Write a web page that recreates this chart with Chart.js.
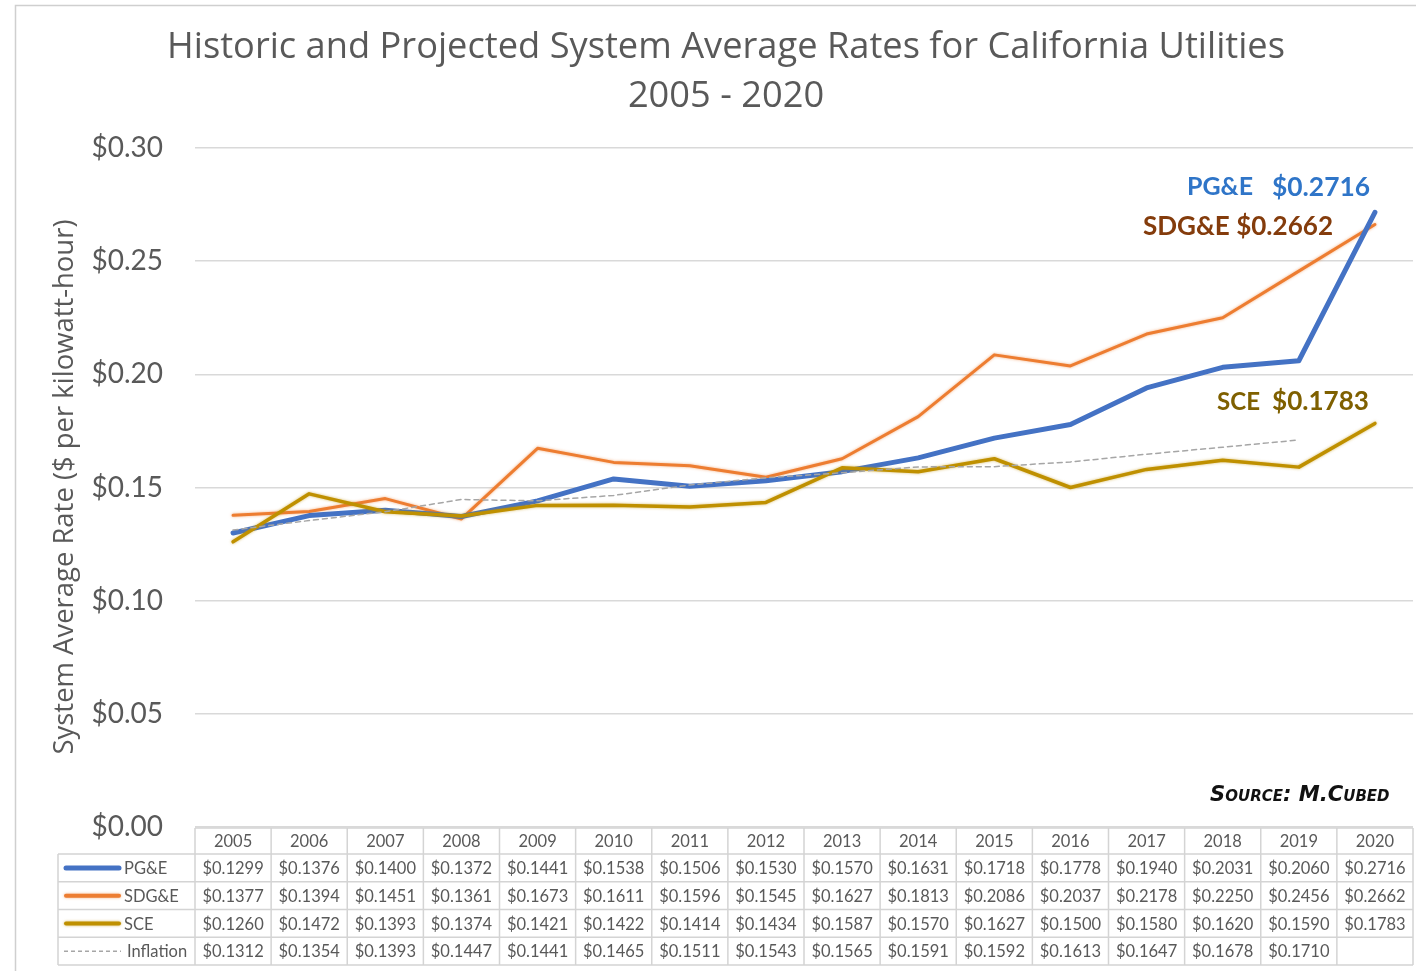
<!DOCTYPE html>
<html>
<head>
<meta charset="utf-8">
<script src="https://cdn.jsdelivr.net/npm/chart.js@4.4.1/dist/chart.umd.min.js"></script>
<style>
html,body{margin:0;padding:0;background:#fff;}
#wrap{width:1416px;height:971px;position:relative;}
</style>
</head>
<body>
<div id="wrap"><canvas id="c" width="1416" height="971"></canvas></div>
<script>
const years = ['2005','2006','2007','2008','2009','2010','2011','2012','2013','2014','2015','2016','2017','2018','2019','2020'];
const pge = [0.1299,0.1376,0.1400,0.1372,0.1441,0.1538,0.1506,0.1530,0.1570,0.1631,0.1718,0.1778,0.1940,0.2031,0.2060,0.2716];
const sdge = [0.1377,0.1394,0.1451,0.1361,0.1673,0.1611,0.1596,0.1545,0.1627,0.1813,0.2086,0.2037,0.2178,0.2250,0.2456,0.2662];
const sce = [0.1260,0.1472,0.1393,0.1374,0.1421,0.1422,0.1414,0.1434,0.1587,0.1570,0.1627,0.1500,0.1580,0.1620,0.1590,0.1783];
const inflation = [0.1312,0.1354,0.1393,0.1447,0.1441,0.1465,0.1511,0.1543,0.1565,0.1591,0.1592,0.1613,0.1647,0.1678,0.1710,null];
const seriesNames = ['PG&E','SDG&E','SCE','Inflation'];
const yMin = 0, yMax = 0.30, yStep = 0.05;

const TXT = '#595959';
const FONT = 'Lato, "Open Sans", sans-serif';

function fitFont(ctx, text, style, family, target, base) {
  ctx.font = style + ' ' + base + 'px ' + family;
  const w = ctx.measureText(text).width;
  const size = base * target / w;
  ctx.font = style + ' ' + size.toFixed(2) + 'px ' + family;
  return size;
}
function fitText(ctx, text, style, family, left, right, cy, color) {
  fitFont(ctx, text, style, family, right - left, 20);
  ctx.fillStyle = color;
  ctx.textAlign = 'left';
  ctx.textBaseline = 'middle';
  ctx.fillText(text, left, cy);
}

const fmt = v => v == null ? '' : '$' + v.toFixed(4);

const overlay = {
  id: 'overlay',
  beforeDatasetDraw(chart, args) {
    const ds = chart.data.datasets[args.index];
    const ctx = chart.ctx;
    ctx.save();
    if (ds.glow) {
      ctx.shadowColor = ds.glow;
      ctx.shadowBlur = 3;
    }
  },
  afterDatasetDraw(chart) { chart.ctx.restore(); },
  afterDraw(chart) {
    const ctx = chart.ctx;
    const x = chart.scales.x;
    ctx.save();
    // outer border
    ctx.strokeStyle = '#cfcfcf';
    ctx.lineWidth = 1.5;
    ctx.beginPath();
    ctx.moveTo(15.5, 971); ctx.lineTo(15.5, 5.5); ctx.lineTo(1416, 5.5);
    ctx.stroke();

    // title
    ctx.fillStyle = TXT;
    const t1 = 'Historic and Projected System Average Rates for California Utilities';
    fitFont(ctx, t1, 'normal', '"Open Sans", sans-serif', 1118, 30);
    ctx.textAlign = 'center'; ctx.textBaseline = 'middle';
    ctx.fillText(t1, 726, 48);
    ctx.fillText('2005 - 2020', 726, 97);

    // y title
    ctx.save();
    ctx.translate(65, 487);
    ctx.rotate(-Math.PI / 2);
    const yt = 'System Average Rate ($ per kilowatt-hour)';
    fitFont(ctx, yt, 'normal', '"Open Sans", sans-serif', 535, 24);
    ctx.fillStyle = TXT;
    ctx.textAlign = 'center'; ctx.textBaseline = 'middle';
    ctx.fillText(yt, 0, 0);
    ctx.restore();

    // annotations
    fitText(ctx, 'PG&E', 'bold', FONT, 1187, 1253, 187, '#2f75c8');
    fitText(ctx, '$' + pge[pge.length-1].toFixed(4), 'bold', FONT, 1272, 1370, 187, '#2f75c8');
    fitText(ctx, 'SDG&E $' + sdge[sdge.length-1].toFixed(4), 'bold', FONT, 1143, 1333, 227, '#843c0c');
    fitText(ctx, 'SCE', 'bold', FONT, 1217, 1260, 402, '#7f6000');
    fitText(ctx, '$' + sce[sce.length-1].toFixed(4), 'bold', FONT, 1272, 1369, 402, '#7f6000');

    // source
    fitText(ctx, 'Source: M.Cubed', 'italic small-caps bold', '"DejaVu Sans", sans-serif', 1210, 1388, 796, '#111');

    // data table
    const colW = x.getPixelForValue(1) - x.getPixelForValue(0);
    const firstL = x.getPixelForValue(0) - colW / 2;
    const lastR = x.getPixelForValue(years.length - 1) + colW / 2;
    const hTop = 828, hBot = 854, rowH = 27.75;
    const legL = 58;
    const tableBot = hBot + rowH * 4;
    ctx.strokeStyle = '#d4d4d4';
    ctx.lineWidth = 1.5;
    ctx.beginPath();
    ctx.moveTo(firstL, hTop); ctx.lineTo(lastR, hTop);
    for (let r = 0; r <= 4; r++) {
      const y = hBot + r * rowH;
      ctx.moveTo(legL, y); ctx.lineTo(lastR, y);
    }
    for (let i = 0; i <= years.length; i++) {
      const xx = firstL + i * colW;
      ctx.moveTo(xx, hTop); ctx.lineTo(xx, tableBot);
    }
    ctx.moveTo(legL, hBot); ctx.lineTo(legL, tableBot);
    ctx.stroke();

    ctx.fillStyle = TXT;
    ctx.textAlign = 'center'; ctx.textBaseline = 'middle';
    ctx.font = '16.5px ' + FONT;
    years.forEach((yr, i) => ctx.fillText(yr, x.getPixelForValue(i), (hTop + hBot) / 2 + 1));
    const rows = [pge, sdge, sce, inflation];
    rows.forEach((arr, r) => {
      const cy = hBot + r * rowH + rowH / 2 + 1;
      arr.forEach((v, i) => ctx.fillText(fmt(v), x.getPixelForValue(i), cy));
    });
    // legend keys
    chart.data.datasets.forEach((ds, r) => {
      const cy = hBot + r * rowH + rowH / 2;
      ctx.save();
      ctx.strokeStyle = ds.borderColor;
      ctx.lineWidth = r === 3 ? 1.5 : (r === 0 ? 5 : 4);
      ctx.lineCap = r === 3 ? 'butt' : 'round';
      if (r === 3) ctx.setLineDash([4, 3]);
      if (ds.glow) { ctx.shadowColor = ds.glow; ctx.shadowBlur = 3; }
      ctx.beginPath();
      ctx.moveTo(r === 3 ? 64 : 66, cy); ctx.lineTo(r === 3 ? 121 : 119, cy);
      ctx.stroke();
      ctx.restore();
      ctx.fillStyle = TXT;
      ctx.textAlign = 'left';
      ctx.font = '16.5px ' + FONT;
      ctx.fillText(ds.label, r === 3 ? 127 : 124, cy + 1);
    });
    ctx.restore();
  }
};

new Chart(document.getElementById('c'), {
  type: 'line',
  data: {
    labels: years,
    datasets: [
      { label: seriesNames[0], data: pge, borderColor: '#4472c4', borderWidth: 5, order: 2 },
      { label: seriesNames[1], data: sdge, borderColor: '#ed7d31', borderWidth: 3, glow: 'rgba(237,125,49,0.6)', order: 3 },
      { label: seriesNames[2], data: sce, borderColor: '#bf9000', borderWidth: 3.5, glow: 'rgba(191,144,0,0.6)', order: 1 },
      { label: seriesNames[3], data: inflation, borderColor: '#a6a6a6', borderWidth: 1.5, borderDash: [5, 4], order: 0 }
    ]
  },
  options: {
    responsive: false,
    animation: false,
    devicePixelRatio: 1,
    layout: { padding: { top: 148, bottom: 144, left: 0, right: 3 } },
    elements: { point: { radius: 0, hoverRadius: 0 }, line: { tension: 0, borderCapStyle: 'round', borderJoinStyle: 'round' } },
    plugins: { legend: { display: false }, title: { display: false }, tooltip: { enabled: false } },
    scales: {
      x: { type: 'category', offset: true, display: false, grid: { display: false } },
      y: {
        min: yMin, max: yMax,
        afterFit(scale) { scale.width = 195; },
        border: { display: false },
        grid: { color: '#d9d9d9', lineWidth: 1.5, drawTicks: false },
        ticks: { stepSize: yStep, padding: 32, color: TXT, font: { family: 'Lato, "Open Sans", sans-serif', size: 28 }, callback: v => '$' + Number(v).toFixed(2) }
      }
    }
  },
  plugins: [overlay]
});
</script>
</body>
</html>
